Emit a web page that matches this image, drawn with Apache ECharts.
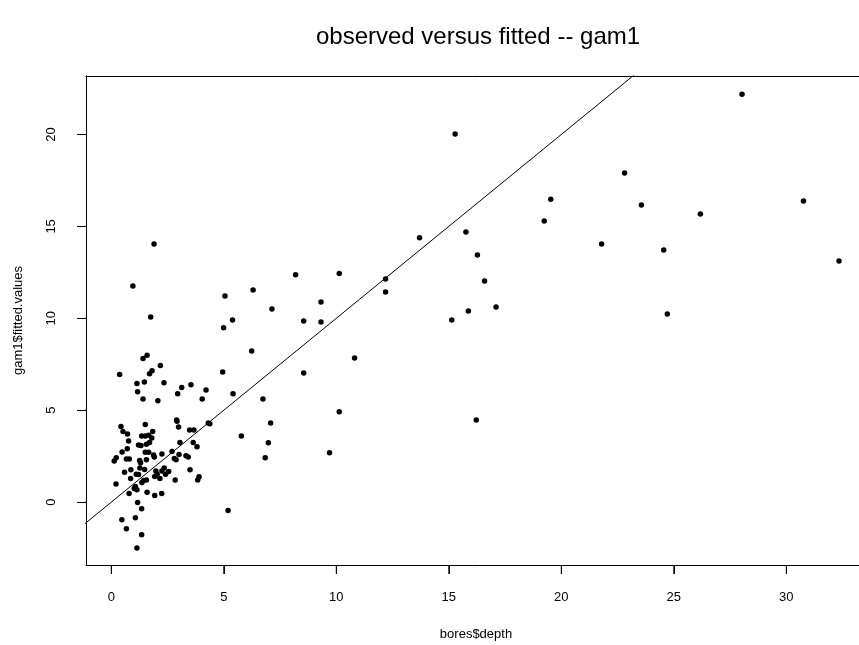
<!DOCTYPE html>
<html>
<head>
<meta charset="utf-8">
<script src="https://cdn.jsdelivr.net/npm/echarts@6/dist/echarts.min.js"></script>
<style>
  html, body { margin: 0; padding: 0; background: #fff; }
  #chart { width: 859px; height: 645px; }
</style>
</head>
<body>
<div id="chart"></div>
<script>
// Observed bore depth against GAM fitted values
const depth = [
  15.28, 28.03, 22.81, 19.53, 19.24, 23.56, 26.18, 30.76, 15.76, 16.27,
  21.79, 24.55, 32.34, 16.59, 15.87, 17.10, 15.13, 24.71, 16.22, 13.70,
  12.19, 12.19, 10.13, 8.19, 6.30, 5.05, 7.14, 9.32, 8.55, 9.32,
  5.39, 4.99, 1.90, 0.96, 1.75, 6.24, 10.81, 4.95, 8.55, 5.41,
  6.74, 10.13, 7.08, 5.78, 6.98, 6.84, 9.70, 5.19, 4.31, 4.38,
  3.54, 4.21, 4.04, 3.13, 3.48, 3.67, 3.64, 3.81, 3.32, 3.42,
  3.50, 3.84, 3.90, 1.59, 1.41, 0.37, 2.18, 1.81, 1.70, 1.14,
  1.47, 2.34, 1.17, 1.41, 2.07, 2.95, 2.90, 2.99, 1.51, 0.43,
  0.52, 0.72, 0.77, 1.84, 1.35, 1.51, 1.66, 1.80, 2.92, 1.21,
  1.32, 1.56, 1.70, 0.48, 0.71, 0.22, 0.13, 0.67, 0.80, 1.26,
  1.30, 1.51, 1.66, 1.88, 1.91, 1.56, 2.25, 2.70, 3.01, 2.80,
  2.88, 3.05, 1.27, 1.48, 0.59, 0.87, 1.11, 1.21, 0.86, 0.21,
  1.07, 1.02, 1.14, 1.36, 1.44, 1.56, 0.79, 1.59, 1.93, 2.24,
  1.17, 1.35, 0.47, 1.07, 0.67, 1.35, 1.14, 1.98, 2.04, 2.16,
  1.93, 2.41, 2.55, 2.84, 2.25, 2.35
];
const fitted = [
  20.03, 22.19, 17.91, 16.48, 15.29, 16.16, 15.67, 16.38, 14.69, 13.44,
  14.04, 13.71, 13.11, 12.03, 10.40, 10.61, 9.91, 10.24, 4.47, 14.38,
  12.14, 11.43, 12.43, 12.37, 11.54, 11.21, 10.50, 10.89, 9.85, 9.80,
  9.91, 9.48, 14.04, 11.76, 10.07, 8.22, 7.84, 7.08, 7.03, 5.89,
  5.61, 4.91, 4.31, 3.60, 3.23, 2.42, 2.68, -0.46, 4.31, 4.27,
  6.38, 6.10, 5.61, 6.23, 3.93, 3.93, 3.24, 3.01, 2.52, 2.46,
  1.76, 1.21, 1.38, 7.99, 7.81, 6.94, 7.43, 7.15, 6.99, 6.45,
  6.54, 6.50, 6.01, 5.61, 5.52, 5.90, 4.47, 4.09, 4.22, 4.11,
  3.84, 3.70, 3.33, 3.84, 3.60, 3.60, 3.64, 3.49, 4.40, 3.11,
  3.08, 3.15, 3.24, 2.73, 2.90, 2.42, 2.24, 2.35, 2.35, 2.26,
  2.14, 2.72, 2.72, 2.57, 2.45, 2.30, 2.62, 2.75, 2.59, 2.37,
  2.30, 3.24, 1.85, 1.77, 1.63, 1.76, 1.52, 1.50, 1.28, 0.98,
  0.85, 0.74, 0.67, 1.07, 1.17, 1.21, 0.47, 0.54, 0.36, 0.47,
  -0.02, -0.36, -0.96, -0.85, -1.45, -1.77, -2.50, 1.69, 1.51, 1.28,
  1.39, 1.52, 1.66, 1.21, 1.70, 1.85
];
const xTicks = [0, 5, 10, 15, 20, 25, 30];
const yTicks = [0, 5, 10, 15, 20];
// 1:1 reference line (observed = fitted), clipped to the plot box
const identityEnds = [-5, 40];

const points = depth.map((d, i) => [d, fitted[i]]);
const identity = identityEnds.map(v => [v, v]);

const FONT = '"Liberation Sans", Arial, sans-serif';
const chart = echarts.init(document.getElementById('chart'), null, { renderer: 'canvas' });

const X_MIN = -1.124, X_MAX = 33.54;
const Y_MIN = -3.42, Y_MAX = 23.18;
const GRID = { left: 86, top: 76, width: 780, height: 489 };
const TICK_LEN = 9;
// tick length expressed in data units of each axis
const xTickDepth = TICK_LEN * (Y_MAX - Y_MIN) / GRID.height;
const yTickDepth = TICK_LEN * (X_MAX - X_MIN) / GRID.width;

function frameAxis(position) {
  return {
    type: 'value',
    position: position,
    min: 0, max: 1,
    axisLine: { show: true, onZero: false, lineStyle: { color: '#000', width: 1 } },
    axisTick: { show: false },
    axisLabel: { show: false },
    splitLine: { show: false }
  };
}

function tickSeries(segment) {
  return {
    type: 'line',
    xAxisIndex: 0, yAxisIndex: 0,
    data: segment,
    showSymbol: false,
    clip: false,
    silent: true,
    lineStyle: { color: '#000', width: 1 },
    z: 5
  };
}

const tickSeriesList = [
  ...xTicks.map(v => tickSeries([[v, Y_MIN], [v, Y_MIN - xTickDepth]])),
  ...yTicks.map(v => tickSeries([[X_MIN, v], [X_MIN - yTickDepth, v]]))
];

chart.setOption({
  backgroundColor: '#fff',
  animation: false,
  textStyle: { fontFamily: FONT, color: '#000' },
  title: {
    text: 'observed versus fitted -- gam1',
    left: 473,
    top: 20,
    textAlign: 'center',
    textStyle: { fontFamily: FONT, fontSize: 24, fontWeight: 'normal', color: '#000' }
  },
  grid: Object.assign({ outerBoundsMode: 'none', containLabel: false, show: false }, GRID),
  xAxis: [
    {
      type: 'value',
      position: 'bottom',
      min: X_MIN, max: X_MAX,
      name: 'bores$depth',
      nameLocation: 'middle',
      nameGap: 63,
      nameTextStyle: { fontFamily: FONT, fontSize: 13, color: '#000' },
      axisLine: { show: true, onZero: false, lineStyle: { color: '#000', width: 1 } },
      splitLine: { show: false },
      axisTick: { show: false },
      axisLabel: { customValues: xTicks, margin: 26, fontSize: 13, color: '#000', fontFamily: FONT, formatter: v => String(v) }
    },
    frameAxis('top')
  ],
  yAxis: [
    {
      type: 'value',
      position: 'left',
      min: Y_MIN, max: Y_MAX,
      name: 'gam1$fitted.values',
      nameLocation: 'middle',
      nameGap: 61,
      nameRotate: 90,
      nameTextStyle: { fontFamily: FONT, fontSize: 13, color: '#000' },
      axisLine: { show: true, onZero: false, lineStyle: { color: '#000', width: 1 } },
      splitLine: { show: false },
      axisTick: { show: false },
      axisLabel: { customValues: yTicks, rotate: 90, margin: 28, fontSize: 13, color: '#000', fontFamily: FONT, formatter: v => String(v) }
    },
    frameAxis('left')
  ],
  series: [
    {
      type: 'line',
      xAxisIndex: 0, yAxisIndex: 0,
      data: identity,
      showSymbol: false,
      clip: true,
      lineStyle: { color: '#000', width: 1 },
      silent: true,
      z: 1
    },
    {
      type: 'scatter',
      xAxisIndex: 0, yAxisIndex: 0,
      data: points,
      symbol: 'circle',
      symbolSize: 5.5,
      itemStyle: { color: '#000', opacity: 1 },
      clip: true,
      z: 2
    },
    ...tickSeriesList
  ]
});

// Full-length outward ticks drawn as graphic lines at positions taken from the axis scales
function toPx(p) {
  let r = null;
  try { r = chart.convertToPixel({ gridIndex: 0 }, p); } catch (e) { r = null; }
  if (!r || !isFinite(r[0]) || !isFinite(r[1])) {
    try { r = chart.convertToPixel({ xAxisIndex: 0, yAxisIndex: 0 }, p); } catch (e) { r = null; }
  }
  return (r && isFinite(r[0]) && isFinite(r[1])) ? r : null;
}
try {
  const tickEls = [];
  xTicks.forEach(v => {
    const p = toPx([v, Y_MIN]);
    if (!p) return;
    const x = Math.round(p[0]) + 0.5;
    tickEls.push({
      type: 'line', silent: true, z: 100,
      shape: { x1: x, y1: p[1], x2: x, y2: p[1] + TICK_LEN },
      style: { stroke: '#000', lineWidth: 1 }
    });
  });
  yTicks.forEach(v => {
    const p = toPx([X_MIN, v]);
    if (!p) return;
    const y = Math.round(p[1]) + 0.5;
    tickEls.push({
      type: 'line', silent: true, z: 100,
      shape: { x1: p[0], y1: y, x2: p[0] - TICK_LEN, y2: y },
      style: { stroke: '#000', lineWidth: 1 }
    });
  });
  if (tickEls.length) chart.setOption({ graphic: tickEls });
} catch (e) { /* keep the series-drawn ticks */ }
</script>
</body>
</html>
